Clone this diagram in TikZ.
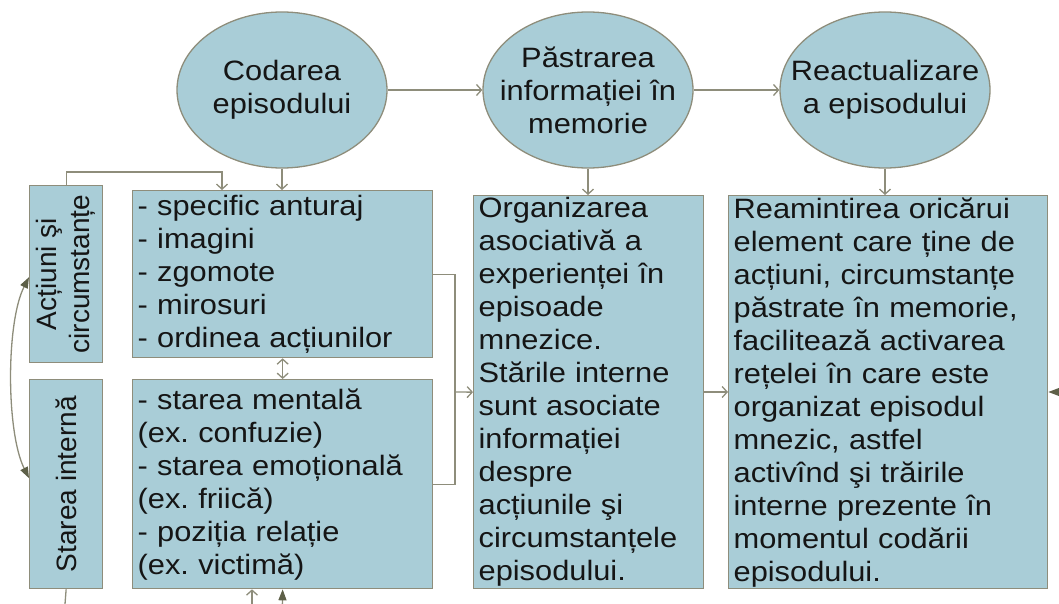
\documentclass[tikz,border=0pt]{standalone}
\usepackage{fontspec}
\setmainfont{Liberation Sans}[FakeStretch=1.1]
\newfontfamily\uprightfont{Liberation Sans}
\usetikzlibrary{shapes,arrows.meta}
\definecolor{boxblue}{HTML}{A9CDD7}
\definecolor{edgegray}{HTML}{8E8D7B}
\definecolor{tipdark}{HTML}{5E6048}
\definecolor{ink}{HTML}{151515}
\frenchspacing
\tikzset{
  opentip/.tip={Straight Barb[length=5pt,width=11pt]},
  darktip/.tip={Triangle[length=11pt,width=8pt,color=tipdark]},
  txt/.style={font=\fontsize{28}{33}\selectfont, text=ink},
  vtxt/.style={font=\uprightfont\fontsize{28}{33}\selectfont, text=ink, rotate=90, align=center},
  box/.style={txt, draw=edgegray, fill=boxblue, line width=1.3pt, rectangle,
    inner xsep=5pt, inner ysep=0pt, align=left, anchor=north west},
  sidebox/.style={draw=edgegray, fill=boxblue, line width=1.3pt, rectangle,
    inner sep=0pt, minimum width=73pt, anchor=north west},
  oval/.style={draw=edgegray, fill=boxblue, line width=1.3pt, ellipse,
    inner sep=0pt, minimum width=210pt, minimum height=156pt},
  link/.style={draw=edgegray, line width=1.3pt},
  arr/.style={link, -opentip},
}
\begin{document}
\begin{tikzpicture}[x=1pt,y=-1pt]
	\useasboundingbox (0,0) rectangle (1059,604);

	% ellipses
	\node[oval] (cod) at (282,90) {};
	\node[txt, align=center] (codT) at (cod) {Codarea\\episodului};
	\node[oval] (pas) at (588,90) {};
	\node[txt, align=center] (pasT) at (pas) {Păstrarea\\informației în\\memorie};
	\node[oval] (rea) at (885,90) {};
	\node[txt, align=center] (reaT) at (rea) {Reactualizare\\a episodului};

	% side boxes
	\node[sidebox, minimum height=177pt] (act) at (29,185) {};
	\node[vtxt] (actT) at (act) {Acțiuni şi\\circumstanțe};
	\node[sidebox, minimum height=209pt] (sti) at (29,379) {};
	\node[vtxt] (stiT) at (sti) {Starea internă};

	% text boxes
	\node[box, text width=290pt, minimum height=167pt] (spec) at (132,190)
		{- specific anturaj\\- imagini\\- zgomote\\- mirosuri\\- ordinea acțiunilor};
	\node[box, text width=290pt, minimum height=209pt] (stm) at (132,379)
		{- starea mentală\\(ex. confuzie)\\- starea emoțională\\(ex. friică)\\- poziția relație\\(ex. victimă)};
	\node[box, text width=220pt, minimum height=393pt] (org) at (473,195)
		{Organizarea\\asociativă a\\experienței în\\episoade\\mnezice.\\Stările interne\\sunt asociate\\informației\\despre\\acțiunile şi\\circumstanțele\\episodului.};
	\node[box, text width=309pt, minimum height=393pt] (ram) at (728,195)
		{Reamintirea oricărui\\element care ține de\\acțiuni, circumstanțe\\păstrate în memorie,\\facilitează activarea\\rețelei în care este\\organizat episodul\\mnezic, astfel\\activînd şi trăirile\\interne prezente în\\momentul codării\\episodului.};

	% helper points
	\coordinate (topk) at (222,172);
	\coordinate (mrg) at (455,392);
	\coordinate (botA) at (65,604);
	\coordinate (botB) at (252,604);
	\coordinate (botC) at (282,625);
	\coordinate (rightin) at (1075,392);

	% connectors
	\draw[arr] (cod) -- (pas);
	\draw[arr] (pas) -- (rea);
	\draw[arr] (cod.south) -- (cod.south |- spec.north);
	\draw[arr] (pas.south) -- (pas.south |- org.north);
	\draw[arr] (rea.south) -- (rea.south |- ram.north);
	\draw[arr] (act.north) |- (topk) -- (topk |- spec.north);
	\draw[link, opentip-opentip] (spec.south) -- (stm.north);
	\draw[link] (spec.east) -| (mrg) |- (stm.east);
	\draw[arr] (mrg) -- (org.west);
	\draw[arr] (org.east |- mrg) -- (ram.west |- mrg);
	\draw[link, darktip-darktip] ([yshift=-3pt]act.west)
		.. controls (6,322) and (6,432) .. ([yshift=6pt]sti.west);
	\draw[link, -darktip] (rightin) -- (ram.east |- rightin);
	\draw[link] (sti.south) -- (botA);
	\draw[arr] (botB) -- (botB |- stm.south);
	\draw[link, -darktip] (botC) -- (stm.south);
\end{tikzpicture}
\end{document}
